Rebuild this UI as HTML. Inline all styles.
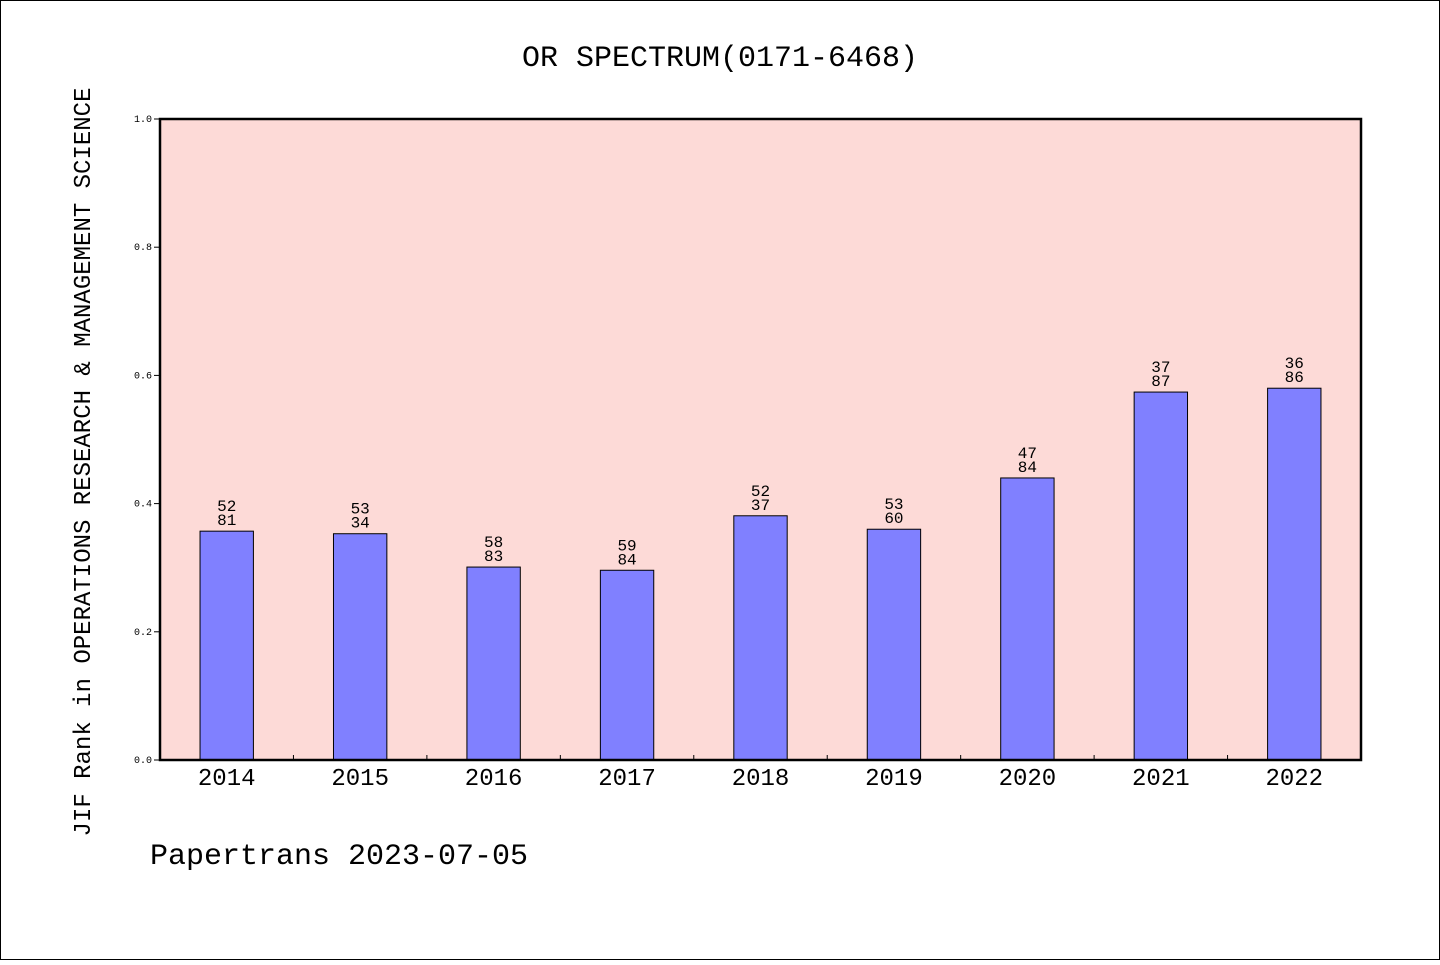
<!DOCTYPE html>
<html><head><meta charset="utf-8"><style>
html,body{margin:0;padding:0;background:#fff}
svg text{font-family:"Liberation Mono","WenQuanYi Zen Hei",monospace;fill:#000}
</style></head><body>
<svg width="1440" height="960" xmlns="http://www.w3.org/2000/svg">
<rect x="0.5" y="0.5" width="1439" height="959" fill="#fff" stroke="#000"/>
<text x="720" y="66" font-size="30" text-anchor="middle">OR SPECTRUM(0171-6468)</text>
<rect x="160" y="119" width="1201" height="641" fill="#fddad7"/>
<g id="bars"></g>
<rect x="160" y="119" width="1201" height="641" fill="none" stroke="#000" stroke-width="2.5"/>
<g id="axes"></g>
<text transform="translate(90,462) rotate(-90)" font-size="24" text-anchor="middle">JIF Rank in OPERATIONS RESEARCH &amp; MANAGEMENT SCIENCE</text>
<text x="150" y="864" font-size="30">Papertrans 2023-07-05</text>
</svg>
<script>
const categories=["2014","2015","2016","2017","2018","2019","2020","2021","2022"];
const values=[0.357,0.353,0.301,0.296,0.381,0.360,0.440,0.574,0.580];
const rankTop=["52","53","58","59","52","53","47","37","36"];
const rankBottom=["81","34","83","84","37","60","84","87","86"];
const yTicks=[0,0.2,0.4,0.6,0.8,1.0];
const NS="http://www.w3.org/2000/svg";
const X0=160,X1=1361,Y0=760,Y1=119;
const band=(X1-X0)/categories.length;
const xc=i=>X0+band*(i+0.5);
const y=v=>Y0-(Y0-Y1)*v;
function mk(tag,attrs,parent){const e=document.createElementNS(NS,tag);for(const k in attrs)e.setAttribute(k,attrs[k]);parent.appendChild(e);return e;}
const bars=document.getElementById('bars'),axes=document.getElementById('axes');
const bw=band*0.4;
categories.forEach((c,i)=>{
 const r=mk('rect',{x:xc(i)-bw/2,y:y(values[i]),width:bw,height:Y0-y(values[i]),fill:'#8080ff',stroke:'#000','stroke-width':1},bars);
 
 
 const t1=mk('text',{x:xc(i),y:y(values[i])-20,'font-size':16,'text-anchor':'middle'},bars);t1.textContent=rankTop[i];
 
 
 const t2=mk('text',{x:xc(i),y:y(values[i])-6,'font-size':16,'text-anchor':'middle'},bars);t2.textContent=rankBottom[i];
 
 
 const xl=mk('text',{x:xc(i),y:785,'font-size':24,'text-anchor':'middle'},axes);xl.textContent=c;
 
 
 if(i>0){const tk=mk('line',{x1:X0+band*i,x2:X0+band*i,y1:Y0,y2:Y0-5,stroke:'#000'},axes);
 
 }
});
yTicks.forEach(v=>{
 const tk=mk('line',{x1:X0-6,x2:X0,y1:y(v),y2:y(v),stroke:'#000'},axes);
 
 
 const t=mk('text',{x:X0-8,y:y(v)+3,'font-size':10,'text-anchor':'end'},axes);t.textContent=v.toFixed(1);
 
 
});
</script>
</body></html>
